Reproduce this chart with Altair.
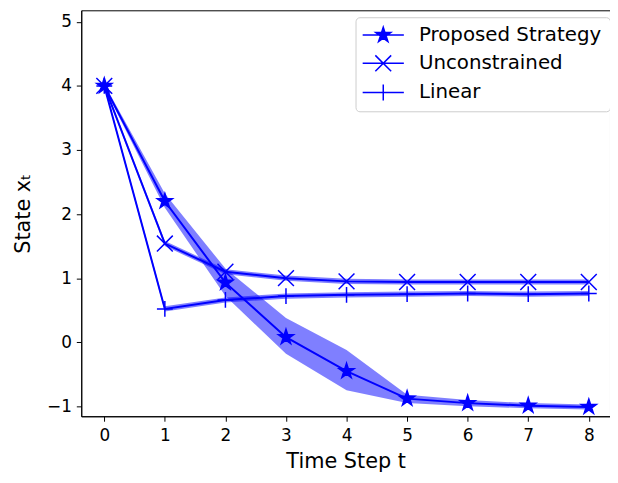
import altair as alt
import pandas as pd

steps = [0, 1, 2, 3, 4, 5, 6, 7, 8]
series_names = ["Proposed Strategy", "Unconstrained", "Linear"]

proposed_mean = [4.0, 2.2, 0.93, 0.08, -0.45, -0.88, -0.95, -0.99, -1.01]
proposed_lo = [3.97, 2.1, 0.72, -0.18, -0.75, -0.95, -1.0, -1.03, -1.05]
proposed_hi = [4.03, 2.32, 1.15, 0.38, -0.12, -0.82, -0.9, -0.95, -0.97]

uncon_mean = [4.0, 1.54, 1.1, 1.0, 0.95, 0.94, 0.94, 0.94, 0.94]
uncon_lo = [3.97, 1.5, 1.06, 0.96, 0.91, 0.9, 0.9, 0.9, 0.9]
uncon_hi = [4.03, 1.58, 1.14, 1.04, 0.99, 0.98, 0.98, 0.98, 0.98]

linear_mean = [4.0, 0.52, 0.66, 0.72, 0.74, 0.75, 0.76, 0.75, 0.76]
linear_lo = [3.97, 0.48, 0.62, 0.68, 0.7, 0.71, 0.72, 0.71, 0.72]
linear_hi = [4.03, 0.56, 0.7, 0.76, 0.78, 0.79, 0.8, 0.79, 0.8]

means = [proposed_mean, uncon_mean, linear_mean]
los = [proposed_lo, uncon_lo, linear_lo]
his = [proposed_hi, uncon_hi, linear_hi]

rows = []
for name, m, lo, hi in zip(series_names, means, los, his):
    for t, a, b, c in zip(steps, m, lo, hi):
        rows.append({"t": t, "series": name, "mean": a, "lo": b, "hi": c})
df = pd.DataFrame(rows)

STAR = ("M0,-1L0.2245,-0.309L0.951,-0.309L0.363,0.118L0.588,0.809L0,0.382"
        "L-0.588,0.809L-0.363,0.118L-0.951,-0.309L-0.2245,-0.309Z")
XSYM = "M-1,-1L1,1M-1,1L1,-1"
PLUS = "M-1,0L1,0M0,-1L0,1"
LEG = "M-2.6,0L2.6,0"
marker_paths = [STAR, XSYM, PLUS]

FONT = "DejaVu Sans"
xscale = alt.Scale(domain=[-0.38, 8.35], nice=False, zero=False)
yscale = alt.Scale(domain=[-1.155, 5.18], nice=False, zero=False)
xaxis = alt.Axis(values=steps, title="Time Step t", format="d", labelPadding=6, titlePadding=8)
yaxis = alt.Axis(values=[-1, 0, 1, 2, 3, 4, 5], title="State xₜ", format="d",
                 labelExpr="replace(datum.label, '-', '−')", labelPadding=5, titlePadding=13)


def X():
    return alt.X("t:Q", scale=xscale, axis=xaxis)


def Y(field):
    return alt.Y(field, scale=yscale, axis=yaxis)


base = alt.Chart(df)

band = base.mark_area(color="blue", opacity=0.5).encode(
    x=X(), y=Y("lo:Q"), y2="hi:Q", detail="series:N"
)
line = base.mark_line(color="blue", strokeWidth=2).encode(
    x=X(), y=Y("mean:Q"), detail="series:N"
)

point_layers = []
for name, path in zip(series_names, marker_paths):
    point_layers.append(
        base.transform_filter(alt.datum.series == name)
        .mark_point(shape=path, filled=True, fill="blue", stroke="blue",
                    strokeWidth=1.5, opacity=1, size=256)
        .encode(x=X(), y=Y("mean:Q"))
    )

legend_def = alt.Legend(
    title=None, orient="none", legendX=277, legendY=7,
    padding=8, symbolOffset=10, labelOffset=26, rowPadding=7.5, labelLimit=400,
    labelFont=FONT, labelFontSize=20, labelColor="black",
    strokeColor="#cccccc", fillColor="rgba(255,255,255,0.8)", cornerRadius=4,
    symbolSize=256, symbolStrokeWidth=1.5, symbolOpacity=1,
)
blue_scale = alt.Scale(domain=series_names, range=["blue", "blue", "blue"])

leg = base.transform_filter("false").mark_point(
    filled=True, strokeWidth=1.5, opacity=1, size=256
).encode(
    x=X(), y=Y("mean:Q"),
    shape=alt.Shape(
        "series:N",
        scale=alt.Scale(domain=series_names, range=[p + LEG for p in marker_paths]),
        legend=legend_def,
    ),
    fill=alt.Fill("series:N", scale=blue_scale, legend=legend_def),
    stroke=alt.Stroke("series:N", scale=blue_scale, legend=legend_def),
)

chart = (
    alt.layer(band, line, *point_layers, leg)
    .properties(
        width=534, height=410,
        autosize=alt.AutoSizeParams(type="none"),
        padding={"left": 74, "top": 0, "right": 0, "bottom": 57},
    )
    .configure_axis(
        labelFont=FONT, labelFontSize=17, labelColor="black",
        titleFont=FONT, titleFontSize=21, titleFontWeight="normal", titleColor="black",
        tickColor="black", domainColor="black", tickSize=5, grid=False,
    )
    .configure_view(stroke="black", strokeWidth=1)
)

chart.save("out.html", embed_options={"renderer": "svg", "actions": False})
